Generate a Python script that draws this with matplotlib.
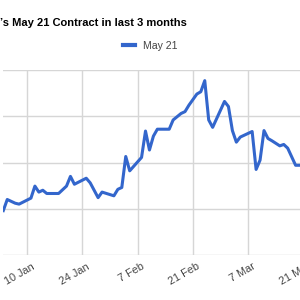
import matplotlib
matplotlib.use("Agg")
import matplotlib.pyplot as plt
import matplotlib.dates as mdates
import matplotlib.transforms as mtransforms
import numpy as np

dates = ["2021-01-04", "2021-01-05", "2021-01-07", "2021-01-08", "2021-01-11",
         "2021-01-12", "2021-01-13", "2021-01-14", "2021-01-15", "2021-01-18",
         "2021-01-20", "2021-01-21", "2021-01-22", "2021-01-25", "2021-01-26",
         "2021-01-28", "2021-01-29", "2021-02-01", "2021-02-02", "2021-02-03",
         "2021-02-04", "2021-02-05", "2021-02-08", "2021-02-09", "2021-02-10",
         "2021-02-11", "2021-02-12", "2021-02-15", "2021-02-16", "2021-02-18",
         "2021-02-19", "2021-02-20", "2021-02-22", "2021-02-23", "2021-02-24",
         "2021-02-25", "2021-02-26", "2021-03-01", "2021-03-02", "2021-03-03",
         "2021-03-04", "2021-03-05", "2021-03-08", "2021-03-09", "2021-03-10",
         "2021-03-11", "2021-03-12", "2021-03-13", "2021-03-15", "2021-03-16",
         "2021-03-17", "2021-03-19", "2021-03-22"]
may21 = [0.96, 1.20, 1.12, 1.10, 1.23, 1.49, 1.36, 1.40, 1.33, 1.33,
         1.49, 1.70, 1.53, 1.66, 1.56, 1.24, 1.36, 1.28, 1.42, 1.46,
         2.13, 1.82, 2.11, 2.68, 2.27, 2.57, 2.72, 2.72, 2.92, 3.06,
         3.10, 3.24, 3.48, 3.53, 3.77, 2.92, 2.76, 3.32, 3.21, 2.69,
         2.44, 2.55, 2.67, 1.85, 2.05, 2.69, 2.52, 2.47, 2.36, 2.39,
         2.31, 1.94, 1.94]
tick_dates = ["2021-01-10", "2021-01-24", "2021-02-07", "2021-02-21",
              "2021-03-07", "2021-03-21"]
tick_labels = ["10 Jan", "24 Jan", "7 Feb", "21 Feb", "7 Mar", "21 Mar"]

plt.rcParams['font.family'] = ['Liberation Sans', 'DejaVu Sans']

x = np.array(dates, dtype="datetime64[D]")
xt = np.array(tick_dates, dtype="datetime64[D]")

fig = plt.figure(figsize=(3, 3), dpi=100)
# plot area: left 3px, top 70px, bottom 255px, runs past the right edge
ax = fig.add_axes([3 / 300, 45 / 300, 320 / 300, 185 / 300])

px_per_day = 3.95
x0 = mdates.date2num(np.datetime64("2021-01-10"))
ax.set_xlim(x0 - 24 / px_per_day, x0 + 296 / px_per_day)
ax.set_ylim(0, 4)

ax.plot(x, may21, color="#3366cc", lw=2.2, label="May 21", solid_joinstyle="round")

ax.set_xticks(xt)
ax.set_xticklabels(tick_labels)
ax.set_yticks([0, 1, 2, 3, 4])
ax.set_yticklabels([])
ax.grid(True, color="#d6d6d6", lw=1)
ax.set_axisbelow(True)
for s in ax.spines.values():
    s.set_visible(False)
ax.tick_params(length=0, axis="x", pad=9.7, labelsize=7.8, labelcolor="#444444")
ax.tick_params(length=0, axis="y")

offset = mtransforms.ScaledTranslation(8 / 100, 0, fig.dpi_scale_trans)
for lab in ax.get_xticklabels():
    lab.set_rotation(30)
    lab.set_ha("right")
    lab.set_va("baseline")
    lab.set_rotation_mode("anchor")
    lab.set_transform(lab.get_transform() + offset)

fig.text(0.0, 1 - 25.5 / 300, "\u2019s May 21 Contract in last 3 months",
         fontsize=8.0, fontweight="bold", color="#000000", ha="left", va="baseline")

leg = ax.legend(loc="center", bbox_to_anchor=(150 / 300, 1 - 46 / 300),
                bbox_transform=fig.transFigure, frameon=False, fontsize=7.6,
                handlelength=1.15, handletextpad=0.75, borderpad=0)
for t in leg.get_texts():
    t.set_color("#444444")
for h in leg.get_lines():
    h.set_linewidth(3)

fig.savefig("out.png", dpi=100)
